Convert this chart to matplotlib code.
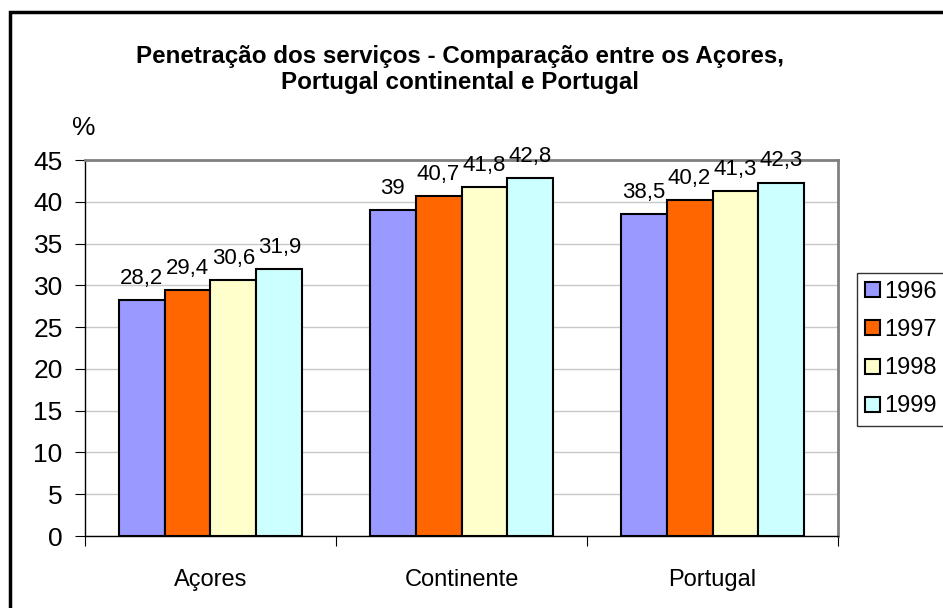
import matplotlib.pyplot as plt
from matplotlib.patches import Rectangle
import numpy as np

plt.rcParams['font.family'] = ['Liberation Sans', 'DejaVu Sans']

categories = ['Açores', 'Continente', 'Portugal']
years = ['1996', '1997', '1998', '1999']
values = {
    '1996': [28.2, 39.0, 38.5],
    '1997': [29.4, 40.7, 40.2],
    '1998': [30.6, 41.8, 41.3],
    '1999': [31.9, 42.8, 42.3],
}
colors = ['#9999ff', '#ff6600', '#ffffcc', '#ccffff']

fig = plt.figure(figsize=(9.43, 6.08), dpi=100)
ax = fig.add_axes([0.0901, 0.1184, 0.7986, 0.6184])

x = np.arange(len(categories))
w = 0.183
for i, y in enumerate(years):
    pos = x + (i - 1.5) * w
    bars = ax.bar(pos, values[y], w, color=colors[i], edgecolor='black',
                  linewidth=1.5, label=y, zorder=3)
    labels = [f'{v:g}'.replace('.', ',') for v in values[y]]
    ax.bar_label(bars, labels=labels, padding=8, fontsize=16)

ax.set_xlim(-0.5, 2.5)
ax.set_ylim(0, 45)
ax.set_yticks(range(0, 46, 5))
ax.tick_params(axis='y', labelsize=19, length=7, direction='out', pad=9)
ax.set_xticks([-0.5, 0.5, 1.5, 2.5])
ax.set_xticklabels([])
ax.tick_params(axis='x', length=7, direction='out')
ax.set_xticks(x, minor=True)
ax.set_xticklabels(categories, minor=True, fontsize=17)
ax.tick_params(axis='x', which='minor', length=0, pad=24)
ax.grid(axis='y', color='#c8c8c8', linewidth=1, zorder=0)

for s in ['top', 'right']:
    ax.spines[s].set_color('#808080')
    ax.spines[s].set_linewidth(2)
for s in ['left', 'bottom']:
    ax.spines[s].set_linewidth(1)

fig.text(0.488, 0.886, 'Penetração dos serviços - Comparação entre os Açores,\nPortugal continental e Portugal',
         ha='center', va='center', fontsize=17.4, fontweight='bold', linespacing=1.2)
fig.text(0.076, 0.79, '%', ha='left', va='center', fontsize=19)

leg = fig.legend(loc='upper left', bbox_to_anchor=(0.909, 0.551), fontsize=17,
                 frameon=True, fancybox=False, edgecolor='black', handlelength=0.6,
                 handleheight=0.6, handletextpad=0.2, labelspacing=0.68,
                 borderpad=0.35, borderaxespad=0)
leg.get_frame().set_linewidth(1)

fig.patches.append(Rectangle((10 / 943, -0.05), 1.0, 0.05 + 1 - 12 / 608,
                             transform=fig.transFigure, fill=False,
                             edgecolor='black', linewidth=2.5))

fig.savefig('out.png', dpi=100)
